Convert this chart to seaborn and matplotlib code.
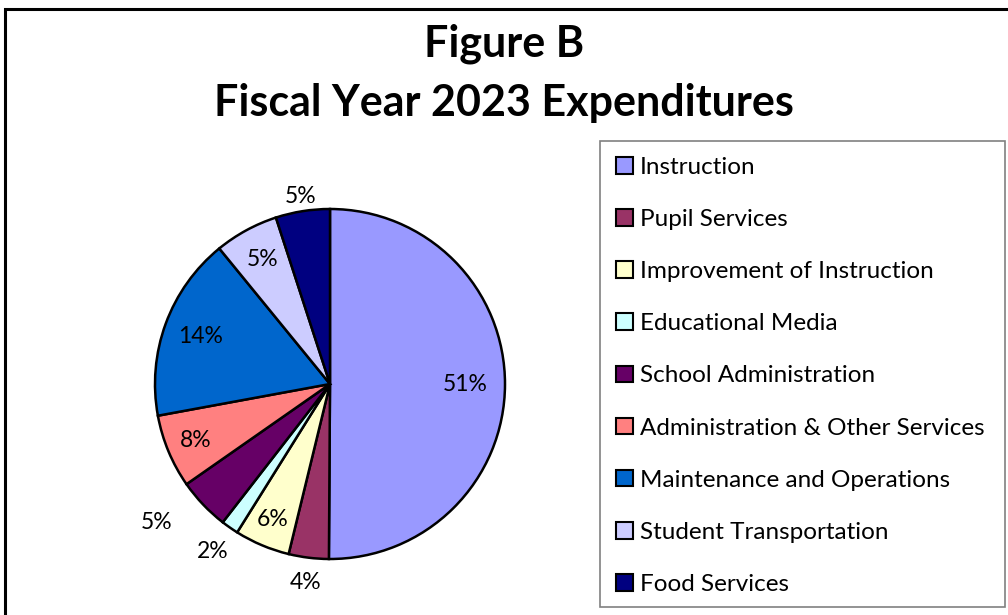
import matplotlib.pyplot as plt
import numpy as np
import seaborn as sns
from matplotlib.patches import Rectangle, Patch

# Data
categories = ["Instruction", "Pupil Services", "Improvement of Instruction",
              "Educational Media", "School Administration",
              "Administration & Other Services", "Maintenance and Operations",
              "Student Transportation", "Food Services"]
# slice shares as drawn (percent of the circle)
shares = [50.1, 3.7, 5.1, 1.6, 4.8, 6.8, 17.0, 5.9, 5.0]
# data labels as printed on the chart
pct_labels = ["51%", "4%", "6%", "2%", "5%", "8%", "14%", "5%", "5%"]
colors = ["#9999FF", "#993366", "#FFFFCC", "#CCFFFF", "#660066",
          "#FF8080", "#0066CC", "#CCCCFF", "#000080"]

sns.set_theme(style="white")
plt.rcParams["font.family"] = ["Lato", "DejaVu Sans"]
plt.rcParams["text.color"] = "black"
palette = sns.color_palette(colors)

W, H = 1008, 615
fig = plt.figure(figsize=(W / 100, H / 100), dpi=100)

# outer chart border
fig.patches.append(Rectangle((5 / W, -0.1), 1.2, (H - 9) / H + 0.1, transform=fig.transFigure,
                             fill=False, edgecolor="black", linewidth=2.2))

fig.text(0.5, 1 - 44 / H, "Figure B", ha="center", va="center",
         fontsize=31, fontweight="bold")
fig.text(0.5, 1 - 103 / H, "Fiscal Year 2023 Expenditures", ha="center", va="center",
         fontsize=31, fontweight="bold")

# pie axes: center (330, 384), radius 175 px
cx, cy, r = 330, 384, 175
ax = fig.add_axes([(cx - r) / W, (H - cy - r) / H, 2 * r / W, 2 * r / H])
wedges, _ = ax.pie(shares, colors=palette, startangle=90, counterclock=False,
                   wedgeprops=dict(edgecolor="black", linewidth=1.8))
ax.set_xlim(-1, 1)
ax.set_ylim(-1, 1)
ax.set_aspect("equal")
ax.axis("off")

# label placement (radius as fraction of R, angle tweak in degrees)
label_pos = [(0.77, 0), (1.14, 0), (0.84, 0), (1.17, 0), (1.27, -5),
             (0.83, 0), (0.79, 0), (0.81, 0), (1.085, 0)]
for w, txt, (rad, dth) in zip(wedges, pct_labels, label_pos):
    th = np.deg2rad((w.theta1 + w.theta2) / 2 + dth)
    ax.text(rad * np.cos(th), rad * np.sin(th), txt, ha="center", va="center",
            fontsize=16.5, color="black", clip_on=False)

# legend box
fig.patches.append(Rectangle((600 / W, (H - 607) / H), 405 / W, 466 / H,
                             transform=fig.transFigure, fill=False,
                             edgecolor="#808080", linewidth=1.2))
handles = [Patch(facecolor=c, edgecolor="black", linewidth=1.5) for c in palette]
fig.legend(handles, categories, loc="upper left",
           bbox_to_anchor=(616 / W, 1 - 157 / H), frameon=False,
           fontsize=17.5, handlelength=0.68, handleheight=0.68,
           handletextpad=0.3, labelspacing=1.28, borderaxespad=0, borderpad=0)

fig.savefig("out.png", dpi=100)
